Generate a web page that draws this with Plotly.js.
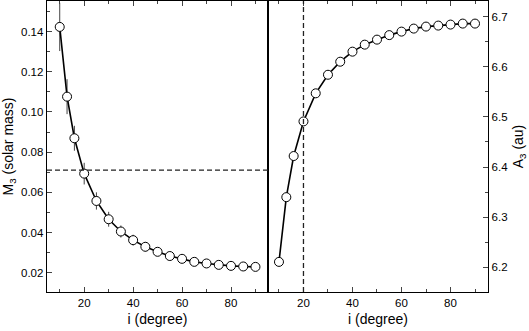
<!DOCTYPE html>
<html>
<head>
<meta charset="utf-8">
<script src="https://cdn.plot.ly/plotly-3.0.1.min.js"></script>
<style>
  body { margin: 0; background: #fff; }
  #plot { width: 529px; height: 331px; }
</style>
</head>
<body>
<div id="plot"></div>
<script>
const inclinacao = [10, 13, 16, 20, 25, 30, 35, 40, 45, 50, 55, 60, 65, 70, 75, 80, 85, 90];
const massa = [0.1423, 0.1076, 0.0869, 0.0693, 0.0557, 0.0466, 0.0405, 0.0362, 0.0329, 0.0304,
    0.0283, 0.0269, 0.0254, 0.0246, 0.0239, 0.0234, 0.0231, 0.0229];
const erroMassa = [0.012, 0.0087, 0.0062, 0.0054, 0.0043, 0.0037, 0.003, 0.0027, 0.0024, 0.0021,
    0.0019, 0.0017, 0.0016, 0.0015, 0.0014, 0.0014, 0.0013, 0.0013];
const semiEixo = [6.211, 6.340, 6.422, 6.491, 6.547, 6.584, 6.610, 6.630, 6.644, 6.654,
    6.663, 6.670, 6.676, 6.680, 6.682, 6.684, 6.686, 6.686];
const limiteMassa = 0.071;   // linha tracejada horizontal
const inclinacaoLimite = 20; // linha tracejada vertical

const fonte = { family: 'Liberation Sans, Arial, sans-serif', color: '#000', size: 11.5 };
const marcador = { symbol: 'circle', size: 9, color: '#fff', line: { color: '#000', width: 1 } };

function eixoX(dominio, ancora, faixa) {
    return {
        domain: dominio, anchor: ancora, range: faixa,
        dtick: 20, tick0: 0, ticks: 'inside', ticklen: 5, tickwidth: 1,
        minor: { dtick: 10, ticks: 'inside', ticklen: 3, tickwidth: 1 },
        showline: true, linewidth: 1.3, linecolor: '#000', mirror: 'ticks',
        showgrid: false, zeroline: false, tickfont: fonte,
        title: { text: 'i (degree)', font: { ...fonte, size: 14 }, standoff: 6 }
    };
}

const data = [
    {
        x: inclinacao, y: massa, xaxis: 'x', yaxis: 'y',
        type: 'scatter', mode: 'lines+markers',
        line: { color: '#000', width: 1.6 },
        marker: marcador,
        error_y: { type: 'data', array: erroMassa, visible: true, color: '#444', thickness: 1, width: 0 }
    },
    {
        x: inclinacao, y: semiEixo, xaxis: 'x2', yaxis: 'y2',
        type: 'scatter', mode: 'lines+markers',
        line: { color: '#000', width: 1.6 },
        marker: marcador
    }
];

const layout = {
    width: 529, height: 331,
    margin: { l: 47, r: 41, t: 1, b: 39 },
    paper_bgcolor: '#fff', plot_bgcolor: '#fff',
    showlegend: false,
    font: fonte,
    xaxis: eixoX([0, 0.501], 'y', [4.8, 95.1]),
    xaxis2: eixoX([0.501, 1], 'y2', [5.5, 95.3]),
    yaxis: {
        domain: [0, 1], anchor: 'x', range: [0.0104, 0.1552],
        dtick: 0.02, tick0: 0, tickformat: '.2f',
        ticks: 'inside', ticklen: 5, tickwidth: 1,
        minor: { dtick: 0.01, ticks: 'inside', ticklen: 3, tickwidth: 1 },
        showline: true, linewidth: 1.3, linecolor: '#000', mirror: true,
        showgrid: false, zeroline: false, tickfont: fonte,
        title: { text: 'M<sub>3</sub> (solar mass)', font: { ...fonte, size: 14 }, standoff: 5 }
    },
    yaxis2: {
        domain: [0, 1], anchor: 'x2', side: 'right', range: [6.151, 6.731],
        dtick: 0.1, tick0: 0, tickformat: '.1f',
        ticks: 'inside', ticklen: 5, tickwidth: 1,
        minor: { dtick: 0.05, ticks: 'inside', ticklen: 3, tickwidth: 1 },
        showline: true, linewidth: 1.3, linecolor: '#000', mirror: true,
        showgrid: false, zeroline: false, tickfont: fonte,
        title: { text: 'A<sub>3</sub> (au)', font: { ...fonte, size: 14 }, standoff: 6 }
    },
    shapes: [
        {
            type: 'line', xref: 'x domain', yref: 'y',
            x0: 0, x1: 1, y0: limiteMassa, y1: limiteMassa,
            line: { color: '#222', width: 1.3, dash: '5px,3px' }
        },
        {
            type: 'line', xref: 'x2', yref: 'y2 domain',
            x0: inclinacaoLimite, x1: inclinacaoLimite, y0: 0, y1: 1,
            line: { color: '#222', width: 1.3, dash: '5px,3px' }
        }
    ]
};

Plotly.newPlot('plot', data, layout, { staticPlot: true });
</script>
</body>
</html>
